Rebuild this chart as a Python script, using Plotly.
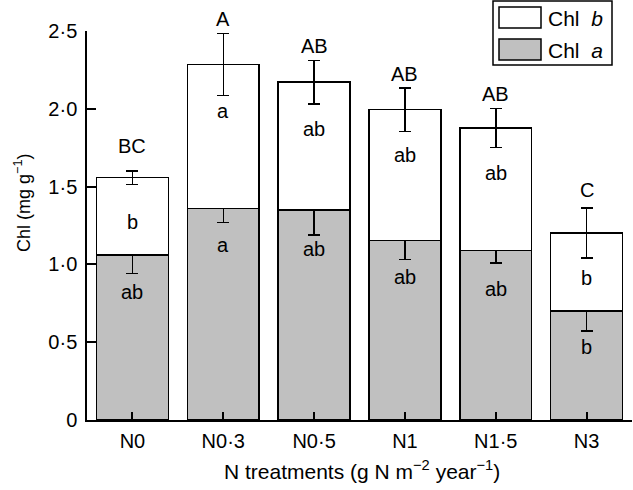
import plotly.graph_objects as go

# ---- data ----
categories = ["N0", "N0·3", "N0·5", "N1", "N1·5", "N3"]
chl_a = [1.06, 1.36, 1.35, 1.155, 1.09, 0.70]
chl_a_err = [0.12, 0.09, 0.16, 0.125, 0.08, 0.128]
chl_total = [1.557, 2.285, 2.171, 1.994, 1.877, 1.202]
chl_total_err = [0.043, 0.20, 0.14, 0.14, 0.125, 0.16]
chl_b = [t - a for t, a in zip(chl_total, chl_a)]

letters_total = ["BC", "A", "AB", "AB", "AB", "C"]
letters_b = ["b", "a", "ab", "ab", "ab", "b"]
letters_a = ["ab", "a", "ab", "ab", "ab", "b"]

y_tickvals = [0, 0.5, 1.0, 1.5, 2.0, 2.5]
y_ticktext = ["0", "0·5", "1·0", "1·5", "2·0", "2·5"]

# ---- style ----
FONT = "Liberation Sans, Arial, Helvetica, sans-serif"
NARROW = "Liberation Sans Narrow, Arial Narrow, Liberation Sans, sans-serif"
FS = 20
W, H = 633, 490
ML, MR, MT, MB = 87, 1, 31, 70
PW, PH = W - ML - MR, H - MT - MB

# label nudges (pixels)
up_shift = [14, 3, 3, 3, 3, 7]
b_shift = [38, 15, 25, 23, 26, 20]
a_shift = [18, 23, 14, 17, 26, 16]


def px(x):
    return (x - ML) / PW


def py(y):
    return (H - MB - y) / PH


fig = go.Figure()
fig.add_trace(go.Bar(
    x=categories, y=chl_a, name="Chl a",
    marker=dict(color="#c0c0c0", line=dict(color="black", width=1.5)),
    error_y=dict(type="data", array=chl_a_err, color="black", thickness=1.5, width=6),
    width=0.79,
))
fig.add_trace(go.Bar(
    x=categories, y=chl_b, name="Chl b",
    marker=dict(color="white", line=dict(color="black", width=1.5)),
    error_y=dict(type="data", array=chl_total_err, color="black", thickness=1.5, width=6),
    width=0.79,
))

tf = dict(size=FS, color="black", family=FONT)
ann = []
for i, c in enumerate(categories):
    ann.append(dict(x=c, y=chl_total[i] + chl_total_err[i], xref="x", yref="y",
                    text=letters_total[i], showarrow=False, yanchor="middle",
                    yshift=up_shift[i] + 11, font=tf))
    ann.append(dict(x=c, y=chl_total[i] - chl_total_err[i], xref="x", yref="y",
                    text=letters_b[i], showarrow=False, yanchor="middle",
                    yshift=-b_shift[i], font=tf))
    ann.append(dict(x=c, y=chl_a[i] - chl_a_err[i], xref="x", yref="y",
                    text=letters_a[i], showarrow=False, yanchor="middle",
                    yshift=-a_shift[i], font=tf))

# axis titles
ann.append(dict(x=px(22), y=py(203), xref="paper", yref="paper", textangle=-90,
                text="Chl (mg g<sup>−1</sup>)", showarrow=False,
                xanchor="center", yanchor="middle",
                font=dict(size=18, color="black", family=NARROW)))
ann.append(dict(x=px(362), y=py(470), xref="paper", yref="paper",
                text="N treatments (g N m<sup>−2</sup> year<sup>−1</sup>)", showarrow=False,
                xanchor="center", yanchor="middle",
                font=dict(size=21, color="black", family=FONT)))

# custom legend
lf = dict(size=21, color="black", family=FONT)
ann.append(dict(x=px(546), y=py(18), xref="paper", yref="paper",
                text="Chl  <i>b</i>", showarrow=False, xanchor="left", yanchor="middle", font=lf))
ann.append(dict(x=px(546), y=py(50), xref="paper", yref="paper",
                text="Chl  <i>a</i>", showarrow=False, xanchor="left", yanchor="middle", font=lf))

shapes = [
    dict(type="rect", xref="paper", yref="paper", x0=px(493), x1=px(612), y0=py(65), y1=py(1),
         line=dict(color="black", width=1.5), fillcolor="white", layer="above"),
    dict(type="rect", xref="paper", yref="paper", x0=px(499), x1=px(541), y0=py(28), y1=py(7),
         line=dict(color="black", width=1.5), fillcolor="white", layer="above"),
    dict(type="rect", xref="paper", yref="paper", x0=px(499), x1=px(541), y0=py(60), y1=py(39),
         line=dict(color="black", width=1.5), fillcolor="#c0c0c0", layer="above"),
]

fig.update_layout(
    width=W, height=H,
    margin=dict(l=ML, r=MR, t=MT, b=MB, pad=0),
    barmode="stack",
    showlegend=False,
    plot_bgcolor="white", paper_bgcolor="white",
    font=dict(family=FONT, size=FS, color="black"),
    annotations=ann,
    shapes=shapes,
)
fig.update_xaxes(
    range=[-0.5, 5.5], showline=True, linecolor="black", linewidth=1.5,
    ticks="inside", ticklen=8, tickwidth=1.5, tickcolor="black",
    showgrid=False, zeroline=False, ticklabelstandoff=2,
    tickfont=tf,
)
fig.update_yaxes(
    range=[0, 2.5], showline=True, linecolor="black", linewidth=1.5,
    ticks="inside", ticklen=9, tickwidth=1.5, tickcolor="black",
    tickvals=y_tickvals, ticktext=y_ticktext,
    showgrid=False, zeroline=False, ticklabelstandoff=4,
    tickfont=tf,
)

fig.write_html("out.html", config={"displayModeBar": False},
               post_script="document.body.style.margin='0';")
